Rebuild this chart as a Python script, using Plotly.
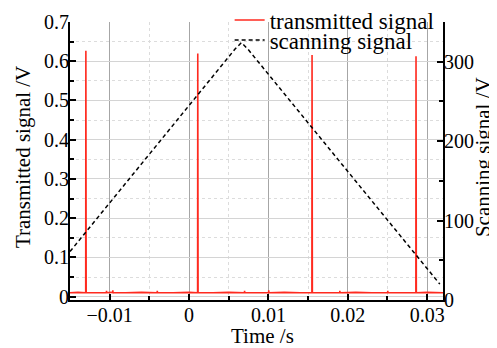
import plotly.graph_objects as go

# Transmitted signal (left axis, V)
tx_time = [-0.0150, -0.0140, -0.01302, -0.01300, -0.01296, -0.0120, -0.01042, -0.01040, -0.01038,
           -0.0098, -0.00962, -0.00960, -0.00958, -0.0080, -0.0060, -0.00402, -0.00400, -0.00398,
           -0.0020, 0.0000, 0.00108, 0.00110, 0.00114, 0.0030, 0.0050, 0.00698, 0.00700, 0.00702,
           0.0085, 0.01002, 0.01004, 0.01006, 0.0120, 0.0140, 0.01548, 0.01550, 0.01554, 0.0170,
           0.01898, 0.01900, 0.01902, 0.0210, 0.0230, 0.02502, 0.02504, 0.02506, 0.0270, 0.02858,
           0.02860, 0.02864, 0.0300, 0.0320]
tx_volt = [0.010, 0.011, 0.010, 0.627, 0.010, 0.010, 0.010, 0.015, 0.010,
           0.011, 0.010, 0.016, 0.010, 0.010, 0.011, 0.010, 0.015, 0.010,
           0.010, 0.011, 0.010, 0.620, 0.010, 0.010, 0.011, 0.010, 0.015, 0.010,
           0.010, 0.010, 0.016, 0.010, 0.011, 0.010, 0.010, 0.616, 0.010, 0.010,
           0.010, 0.015, 0.010, 0.011, 0.010, 0.010, 0.015, 0.010, 0.010, 0.010,
           0.613, 0.010, 0.011, 0.010]

# Scanning signal (right axis, V)
scan_time = [-0.0150, 0.0058, 0.0066, 0.0074, 0.0316]
scan_volt = [61, 316, 324, 316, 20]

x_ticks = [-0.01, 0, 0.01, 0.02, 0.03]
x_ticktext = ["\u22120.01", "0", "0.01", "0.02", "0.03"]
y_ticks = [0, 0.1, 0.2, 0.3, 0.4, 0.5, 0.6, 0.7]
y_ticktext = ["0", "0.1", "0.2", "0.3", "0.4", "0.5", "0.6", "0.7"]
y2_ticks = [0, 100, 200, 300]
y2_ticktext = ["0", "100", "200", "300"]

FONT = "Liberation Serif"
TICK = 20
TITLE = 21
LEG = 23

fig = go.Figure()
fig.add_trace(go.Scatter(x=tx_time, y=tx_volt, mode="lines", name="transmitted signal",
                         legend="legend",
                         line=dict(color="#ff2a1f", width=1.6, simplify=False)))
fig.add_trace(go.Scatter(x=scan_time, y=scan_volt, mode="lines", name="scanning signal",
                         yaxis="y2", legend="legend2",
                         line=dict(color="black", width=1.5, dash="4px,3px", simplify=False)))

# white panel behind the legend text that hides the grid (traces stay on top)
fig.add_shape(type="rect", xref="paper", yref="paper", x0=0.53, x1=0.995, y0=0.905, y1=1.0,
              fillcolor="white", line=dict(width=0), layer="between")

leg_common = dict(xanchor="left", yanchor="middle", bgcolor="rgba(0,0,0,0)", borderwidth=0,
                  font=dict(family=FONT, size=LEG), itemwidth=30)

fig.update_layout(
    width=489, height=340,
    margin=dict(l=62, r=54, t=14, b=48, autoexpand=False),
    paper_bgcolor="white", plot_bgcolor="white",
    font=dict(family=FONT, size=TITLE, color="black"),
    showlegend=True,
    legend=dict(x=0.428, y=1.007, **leg_common),
    legend2=dict(x=0.428, y=0.935, **leg_common),
    xaxis=dict(range=[-0.015, 0.032], tickvals=x_ticks, ticktext=x_ticktext,
               showline=True, linecolor="black", linewidth=2, ticks="inside", ticklen=6,
               tickcolor="black", tickwidth=1.5, tickfont=dict(family=FONT, size=TICK),
               ticklabelstandoff=-4,
               showgrid=True, gridcolor="#a6a6a6", gridwidth=1, zeroline=False,
               automargin=False,
               minor=dict(dtick=0.005, tick0=0, ticks="inside", ticklen=4, tickcolor="black",
                          showgrid=True, gridcolor="#dcdcdc", griddash="dot", gridwidth=1)),
    yaxis=dict(range=[-0.0085, 0.7], tickvals=y_ticks, ticktext=y_ticktext,
               showline=True, linecolor="black", linewidth=2, ticks="inside", ticklen=6,
               tickcolor="black", tickwidth=1.5, tickfont=dict(family=FONT, size=TICK),
               ticklabelstandoff=-5,
               showgrid=True, gridcolor="#d4d4d4", gridwidth=1.2, zeroline=False,
               automargin=False,
               minor=dict(dtick=0.05, tick0=0, ticks="inside", ticklen=4, tickcolor="black",
                          showgrid=True, gridcolor="#dcdcdc", griddash="dot", gridwidth=1)),
    yaxis2=dict(range=[0, 350], overlaying="y", side="right", tickvals=y2_ticks,
                ticktext=y2_ticktext, showline=True, linecolor="black", linewidth=2,
                ticks="inside", ticklen=6, tickcolor="black", tickwidth=1.5,
                tickfont=dict(family=FONT, size=TICK), ticklabelstandoff=-5,
                showgrid=False, zeroline=False, automargin=False,
                minor=dict(dtick=50, tick0=0, ticks="inside", ticklen=4, tickcolor="black")),
    annotations=[
        dict(text="Time /s", xref="paper", yref="paper", x=0.515, y=0, yshift=-36,
             xanchor="center", yanchor="middle", showarrow=False,
             font=dict(family=FONT, size=TITLE)),
        dict(text="Transmitted signal /V", xref="paper", yref="paper", x=0, xshift=-47,
             y=0.514, xanchor="center", yanchor="middle", textangle=-90, showarrow=False,
             font=dict(family=FONT, size=TITLE)),
        dict(text="Scanning signal /V", xref="paper", yref="paper", x=1, xshift=40,
             y=0.514, xanchor="center", yanchor="middle", textangle=-90, showarrow=False,
             font=dict(family=FONT, size=TITLE)),
    ],
)

fig.write_html("out.html")
